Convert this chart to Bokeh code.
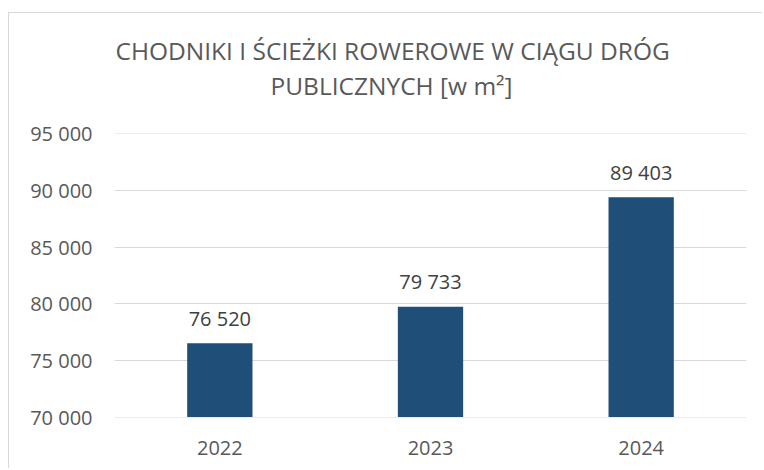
from bokeh.plotting import figure
from bokeh.models import FixedTicker, Title, ColumnDataSource, LabelSet, Range1d
from bokeh.core.properties import value
from bokeh.embed import file_html
from bokeh.resources import INLINE

years = ["2022", "2023", "2024"]
values = [76520, 79733, 89403]
y_ticks = [70000, 75000, 80000, 85000, 90000, 95000]
y_tick_labels = ["70 000", "75 000", "80 000", "85 000", "90 000", "95 000"]
title_line1 = "CHODNIKI I ŚCIEŻKI ROWEROWE W CIĄGU DRÓG"
title_line2 = "PUBLICZNYCH [w m²]"

labels = [f"{v:,}".replace(",", " ") for v in values]
src = ColumnDataSource(dict(x=years, top=values, label=labels))

FONT = "Open Sans"
GRAY = "#595959"
TFS = "24.5px"

p = figure(x_range=years, y_range=Range1d(69960, 95040), width=754, height=456,
           output_backend="svg", toolbar_location=None,
           min_border_left=105, min_border_right=17, min_border_bottom=52, min_border_top=120)
p.margin = (12, 0, 0, 8)
p.styles = {"border-top": "1px solid #d9d9d9", "border-left": "1px solid #d9d9d9"}

# first-added "above" item sits closest to the plot area: a white spacer
p.add_layout(Title(text=".", text_font_size="10px", standoff=22, text_color="#ffffff",
                   align="left", offset=0), "above")
p.add_layout(Title(text=title_line2, align="left", offset=156, text_font_size=TFS,
                   text_color=GRAY, text_font=FONT, text_font_style="normal", standoff=0), "above")
p.title = Title(text=title_line1, align="left", offset=1, text_font_size=TFS,
                text_color=GRAY, text_font=FONT, text_font_style="normal", standoff=0)

p.vbar(x="x", top="top", bottom=70000, width=0.31, source=src, color="#1F4E79", line_color=None)
p.add_layout(LabelSet(x="x", y="top", text="label", source=src, text_align="center",
                      text_baseline="middle", y_offset=25, text_font=value(FONT),
                      text_font_size=value("20px"), text_color="#404040"))

p.outline_line_color = None
p.xgrid.grid_line_color = None
p.ygrid.grid_line_color = "#d9d9d9"
p.ygrid.grid_line_width = 1
p.yaxis.ticker = FixedTicker(ticks=y_ticks)
p.yaxis.major_label_overrides = dict(zip(y_ticks, y_tick_labels))
for ax in (p.xaxis[0], p.yaxis[0]):
    ax.axis_line_color = None
    ax.major_tick_line_color = None
    ax.minor_tick_line_color = None
    ax.major_label_text_font = FONT
    ax.major_label_text_font_size = "20px"
    ax.major_label_text_color = GRAY
p.yaxis.major_label_standoff = 16
p.xaxis.major_label_standoff = 17

open("out.html", "w").write(file_html(p, INLINE))
